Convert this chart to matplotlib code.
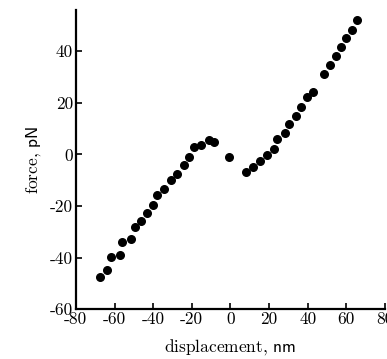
import matplotlib
matplotlib.use("Agg")
import matplotlib.pyplot as plt

# force-displacement points
disp = [-67.5, -63.9, -62.0, -57.4, -56.0, -51.7, -49.6, -46.5, -43.4, -40.1,
        -38.2, -34.6, -31.0, -27.5, -24.1, -21.5, -19.0, -15.3, -10.9, -8.3,
        -0.7, 8.1, 11.8, 15.5, 18.8, 22.4, 24.3, 28.3, 30.3, 34.1,
        36.5, 39.8, 42.9, 48.2, 51.5, 54.4, 57.2, 59.8, 63.0, 65.5]
force = [-47.6, -45.0, -39.9, -39.2, -34.0, -32.9, -28.1, -25.9, -22.9, -19.8,
         -15.9, -13.3, -9.8, -7.5, -4.1, -1.0, 2.9, 3.5, 5.4, 4.8,
         -0.9, -6.9, -4.7, -2.7, -0.4, 2.1, 5.8, 8.4, 11.9, 15.0,
         18.4, 22.1, 24.2, 31.3, 34.7, 38.1, 41.7, 45.2, 48.4, 52.0]

xticks = [-80, -60, -40, -20, 0, 20, 40, 60, 80]
yticks = [-60, -40, -20, 0, 20, 40]

plt.rcParams["font.family"] = "serif"
plt.rcParams["font.serif"] = ["cmr10", "DejaVu Serif"]
plt.rcParams["mathtext.fontset"] = "cm"

fig = plt.figure(figsize=(3.87, 3.59), dpi=100)
ax = fig.add_axes([0.196, 0.139, 0.799, 0.833])

ax.scatter(disp, force, s=30, color="black", zorder=3, clip_on=False)

ax.set_xlim(-80, 80)
ax.set_ylim(-60, 56)
ax.set_xticks(xticks)
ax.set_xticklabels([str(t) for t in xticks])
ax.set_yticks(yticks)
ax.set_yticklabels([str(t) for t in yticks])

for side in ("top", "right"):
    ax.spines[side].set_visible(False)
for side in ("left", "bottom"):
    ax.spines[side].set_linewidth(1.6)

ax.tick_params(direction="in", length=4, width=1.2, labelsize=12.5, pad=2)

ax.set_xlabel(r"displacement, $\mathsf{nm}$", fontsize=12.5, labelpad=7)
ax.set_ylabel(r"force, $\mathsf{pN}$", fontsize=12.5, labelpad=5)

fig.savefig("out.png", dpi=100)
